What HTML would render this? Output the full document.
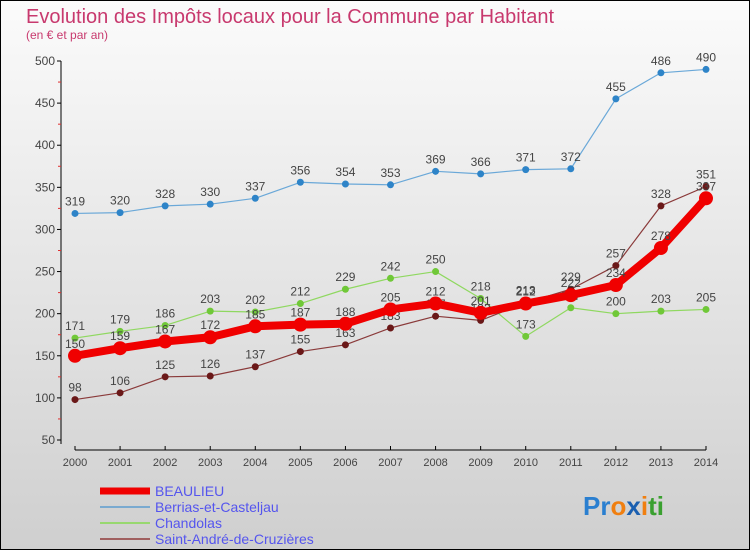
<!DOCTYPE html>
<html><head><meta charset="utf-8"><style>
html,body{margin:0;padding:0}
body{width:750px;height:550px;overflow:hidden;font-family:"Liberation Sans",sans-serif}
</style></head><body>
<svg width="750" height="550" xmlns="http://www.w3.org/2000/svg">
<defs><linearGradient id="bg" x1="0" y1="0" x2="0" y2="1"><stop offset="0" stop-color="#fbfbfb"/><stop offset="1" stop-color="#cfcfcf"/></linearGradient></defs>
<rect x="0.5" y="0.5" width="749" height="549" fill="url(#bg)" stroke="#000"/>
<text x="26" y="23" font-size="20" fill="#c8396e">Evolution des Impôts locaux pour la Commune par Habitant</text>
<text x="26" y="39" font-size="12" fill="#c8396e">(en € et par an)</text>
<g id="axes"></g>
<g id="series"></g>
<g id="legend"></g>
<text x="583" y="515" font-size="26" font-weight="bold"><tspan fill="#2a7fd0">Pr</tspan><tspan fill="#f07f10">o</tspan><tspan fill="#1a5fb0">x</tspan><tspan fill="#f07f10">i</tspan><tspan fill="#3aa030">ti</tspan></text>
</svg>
<script>
const years=[2000,2001,2002,2003,2004,2005,2006,2007,2008,2009,2010,2011,2012,2013,2014];
const yTicks=[50,100,150,200,250,300,350,400,450,500];
const beaulieu=[150,159,167,172,185,187,188,205,212,201,212,222,234,278,337];
const berrias=[319,320,328,330,337,356,354,353,369,366,371,372,455,486,490];
const chandolas=[171,179,186,203,202,212,229,242,250,218,173,207,200,203,205];
const saintAndre=[98,106,125,126,137,155,163,183,197,192,213,229,257,328,351];
const NS="http://www.w3.org/2000/svg";
const X=i=>75+i*(631/14);
const Y=v=>440-(v-50)*(379/450);
function mk(tag,attrs,parent){const e=document.createElementNS(NS,tag);for(const k in attrs)e.setAttribute(k,attrs[k]);parent.appendChild(e);return e;}
const ax=document.getElementById('axes');
let l=mk('line',{x1:61,y1:Y(500),x2:61,y2:444,stroke:'#000'},ax);


l=mk('line',{x1:75,y1:450,x2:706,y2:450,stroke:'#000'},ax);


yTicks.forEach(v=>{
  mk('line',{x1:57,y1:Y(v),x2:61,y2:Y(v),stroke:'#000'},ax);
  if(v<500)mk('line',{x1:58,y1:Y(v+25),x2:61,y2:Y(v+25),stroke:'#e03030'},ax);
  const t=mk('text',{x:55,y:Y(v)+4,'font-size':12,'text-anchor':'end',fill:'#444'},ax);t.textContent=v;
  
  
});
years.forEach((yr,i)=>{
  mk('line',{x1:X(i),y1:446,x2:X(i),y2:450,stroke:'#000'},ax);
  const t=mk('text',{x:X(i),y:466,'font-size':11,'text-anchor':'middle',fill:'#444'},ax);t.textContent=yr;
  
  
});
const sg=document.getElementById('series');
function series(data,color,dot,w,r,name){
  const g=mk('g',{},sg);
  
  
  const p=mk('polyline',{points:data.map((v,i)=>X(i)+','+Y(v)).join(' '),fill:'none',stroke:color,'stroke-width':w,'stroke-linejoin':'round'},g);
  
  
  data.forEach((v,i)=>{
    const c=mk('circle',{cx:X(i),cy:Y(v),r:r,fill:dot},g);
    
    
    const t=mk('text',{x:X(i),y:Y(v)-8,'font-size':12,'text-anchor':'middle',fill:'#444'},g);t.textContent=v;
    
    
  });
}
series(berrias,'#6aa8d8','#2e84c8',1.2,3.5,'berrias-series');
series(chandolas,'#8fd860','#70c838',1.2,3.5,'chandolas-series');
series(saintAndre,'#8a3a3a','#6a1818',1.2,3.5,'saint-andre-series');
series(beaulieu,'#f00000','#f00000',8,7,'beaulieu-series');
const lg=document.getElementById('legend');
const items=[['BEAULIEU','#f00000',7],['Berrias-et-Casteljau','#7aaad0',2],['Chandolas','#98d870',2],['Saint-André-de-Cruzières','#a06060',2]];
items.forEach((it,i)=>{
  const y=491+i*16;
  const ln=mk('line',{x1:100,y1:y,x2:150,y2:y,stroke:it[1],'stroke-width':it[2]},lg);
  
  
  const t=mk('text',{x:155,y:y+5,'font-size':14,fill:'#5555ee'},lg);t.textContent=it[0];
  
  
});
</script>
</body></html>
